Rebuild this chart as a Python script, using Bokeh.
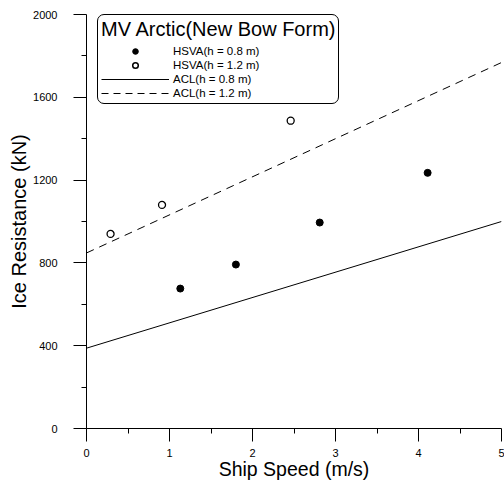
from bokeh.plotting import figure
from bokeh.models import Range1d, Legend, LegendItem, FixedTicker
from bokeh.embed import file_html
from bokeh.resources import INLINE

# Data
speed_h08 = [1.13, 1.80, 2.81, 4.11]
res_h08 = [676, 792, 995, 1235]
speed_h12 = [0.29, 0.91, 2.46]
res_h12 = [940, 1080, 1487]
acl_speed = [0, 5]
acl_h08 = [388, 1000]
acl_h12 = [848, 1768]

x_ticks = [0, 1, 2, 3, 4, 5]
x_minor = [0.5, 1.5, 2.5, 3.5, 4.5]
y_ticks = [0, 400, 800, 1200, 1600, 2000]
y_minor = [200, 600, 1000, 1400, 1800]

FONT = "Liberation Sans"
W, H = 504, 483
BL, BR, BT, BB = 86, 3, 14, 55

p = figure(width=W, height=H, output_backend="svg", toolbar_location=None,
           x_range=Range1d(0, 5), y_range=Range1d(0, 2000),
           min_border_left=BL, min_border_right=BR, min_border_top=BT, min_border_bottom=BB)
p.outline_line_color = None
p.grid.visible = False
p.background_fill_color = "white"
p.border_fill_color = "white"

# data glyphs
r_l08 = p.line(acl_speed, acl_h08, line_color="black", line_width=1)
r_l12 = p.line(acl_speed, acl_h12, line_color="black", line_width=1, line_dash="8 6")
p.scatter(speed_h08, res_h08, marker="circle", size=7, fill_color="black", line_color="black")
p.scatter(speed_h12, res_h12, marker="circle", size=7, fill_color="white", line_color="black", line_width=1.3)

# legend-only marker renderers (placed outside the visible range)
lg1 = p.scatter([-10], [-10], marker="circle", size=9, fill_color="black", line_color="black")
lg2 = p.scatter([-10], [-10], marker="circle", size=9, fill_color="white", line_color="black", line_width=1.5)
lg4 = p.line([-10, -9], [-10, -10], line_color="black", line_width=1, line_dash="7 5")

legend = Legend(items=[
    LegendItem(label="HSVA(h = 0.8 m)", renderers=[lg1]),
    LegendItem(label="HSVA(h = 1.2 m)", renderers=[lg2]),
    LegendItem(label="ACL(h = 0.8 m)", renderers=[r_l08]),
    LegendItem(label="ACL(h = 1.2 m)", renderers=[lg4]),
], location=(11, (H - BT - BB) - 90))
legend.title = "MV Arctic(New Bow Form)"
legend.title_text_font = FONT
legend.title_text_font_size = "20px"
legend.title_text_font_style = "normal"
legend.title_text_color = "black"
legend.title_standoff = 3
legend.label_text_font = FONT
legend.label_text_font_size = "11.5px"
legend.label_text_color = "black"
legend.label_height = 14
legend.glyph_height = 14
legend.glyph_width = 68
legend.label_standoff = 4
legend.spacing = 0
legend.padding = 3
legend.margin = 0
legend.border_line_color = "black"
legend.border_line_alpha = 1
legend.border_line_width = 1
legend.background_fill_alpha = 1
try:
    legend.border_radius = 7
except Exception:
    pass
p.add_layout(legend)

for ax in (p.xaxis[0], p.yaxis[0]):
    ax.axis_line_color = "black"
    ax.axis_line_width = 1
    ax.major_tick_line_color = "black"
    ax.minor_tick_line_color = "black"
    ax.major_tick_out = 13
    ax.major_tick_in = 0
    ax.minor_tick_out = 5
    ax.minor_tick_in = 0
    ax.major_label_text_font = FONT
    ax.major_label_text_font_size = "11px"
    ax.major_label_text_color = "black"
    ax.axis_label_text_font = FONT
    ax.axis_label_text_font_style = "normal"
    ax.axis_label_text_color = "black"

p.xaxis[0].ticker = FixedTicker(ticks=x_ticks, minor_ticks=x_minor)
p.yaxis[0].ticker = FixedTicker(ticks=y_ticks, minor_ticks=y_minor)
p.xaxis[0].axis_label = "Ship Speed (m/s)"
p.yaxis[0].axis_label = "Ice Resistance (kN)"
p.xaxis[0].axis_label_text_font_size = "19.5px"
p.yaxis[0].axis_label_text_font_size = "20px"
p.xaxis[0].major_label_standoff = 7
p.yaxis[0].major_label_standoff = 16
p.xaxis[0].axis_label_standoff = -2
p.yaxis[0].axis_label_standoff = 0

open("out.html", "w").write(file_html(p, INLINE))
